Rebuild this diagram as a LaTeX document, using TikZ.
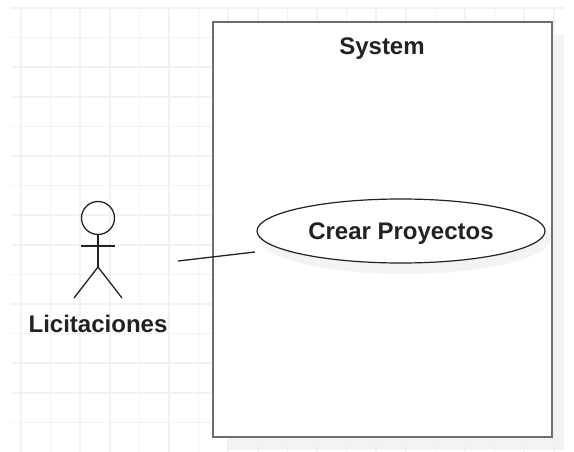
\documentclass[tikz,border=0pt]{standalone}
\usepackage{fontspec}
\setmainfont{Liberation Sans}
\definecolor{gridgray}{HTML}{F2F2F2}
\definecolor{shadowgray}{HTML}{F3F3F3}
\definecolor{edgegray}{HTML}{6E6E6E}
\definecolor{inkgray}{HTML}{222222}
\tikzset{
    boxlabel/.style={font=\fontsize{24}{28}\selectfont\bfseries,text=inkgray,inner sep=0pt},
    actorline/.style={draw=inkgray,line width=1.3pt},
    systembox/.style={draw=edgegray,line width=2.4pt,fill=white,rectangle,inner sep=0pt,minimum width=339pt,minimum height=415pt},
    usecase/.style={draw=inkgray,line width=1.2pt,fill=white,ellipse,inner sep=0pt,minimum width=288pt,minimum height=64pt}
}
\usetikzlibrary{shapes.geometric}

\begin{document}
\begin{tikzpicture}[x=1pt,y=-1pt]
        \useasboundingbox (0,0) rectangle (574,452);
        % shadow of the box, under the grid
        \fill[shadowgray] (229,35) rectangle (564,450);
        \foreach \gx in {0,...,18}{
            \draw[gridgray,line width=1.6pt] ({21+29.6*\gx},8) -- ({21+29.6*\gx},452);
        }
        \foreach \gy in {0,...,14}{
            \draw[gridgray,line width=1.6pt] (11,{8+29.6*\gy}) -- (564,{8+29.6*\gy});
        }
        \node[systembox] (system) at (382.5,229.5) {};
        \node[boxlabel] (systemlabel) at (382,49) {System};
        % use case
        \fill[shadowgray] (405,238) ellipse (146 and 36);
        \node[usecase] (crear) at (401,231) {};
        \node[boxlabel] (crearlabel) at (401,234) {Crear Proyectos};
        % actor
        \node[draw=inkgray,line width=1.3pt,circle,inner sep=0pt,minimum size=33pt] (head) at (98,218) {};
        \coordinate (hip) at (98,267);
        \coordinate (armleft) at (81,246);
        \coordinate (armright) at (115,246);
        \coordinate (legleft) at (74,298);
        \coordinate (legright) at (122,298);
        \draw[actorline] (head.south) -- (hip);
        \draw[actorline] (armleft) -- (armright);
        \draw[actorline] (legleft) -- (hip) -- (legright);
        \node[boxlabel] (actorlabel) at (98,324) {Licitaciones};
        % association
        \coordinate (linkstart) at (178,261);
        \coordinate (linkend) at (255,252);
        \draw[actorline] (linkstart) -- (linkend);
    \end{tikzpicture}
\end{document}
